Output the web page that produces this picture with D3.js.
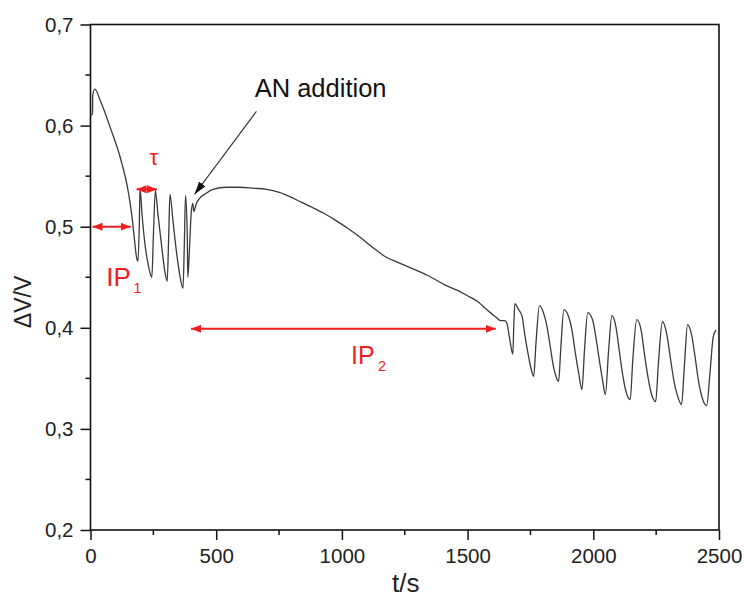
<!DOCTYPE html>
<html>
<head>
<meta charset="utf-8">
<script src="https://cdn.jsdelivr.net/npm/d3@7"></script>
<style>
    body { margin: 0; background: #fff; overflow: hidden; }
    svg { display: block; font-family: Arial, "Liberation Sans", sans-serif; }
</style>
</head>
<body>
<svg></svg>
<script>
// time in seconds
const times = [
    4, 8, 9, 17, 40, 80, 120, 150, 165, 175, 183, 189,
    194, 197, 205, 216, 230, 244,
    250, 258, 268, 282, 295, 305,
    311, 316, 328, 341, 354, 368,
    373, 378, 385, 387, 394, 401, 407, 411, 421, 434,
    460, 487, 540, 592, 650, 700, 751, 800, 840, 883, 930, 970,
    1020, 1070, 1120, 1175, 1220, 1267, 1340, 1413, 1460, 1505, 1545, 1571, 1600, 1620, 1631, 1648,
    1657, 1668, 1680, 1684, 1688,
    1703, 1717, 1727, 1740, 1754, 1763, 1772, 1786,
    1803, 1816, 1829, 1842, 1856, 1862, 1871, 1883,
    1902, 1915, 1928, 1942, 1955, 1965, 1978,
    1997, 2010, 2024, 2037, 2048, 2061, 2074,
    2090, 2103, 2116, 2129, 2147, 2157, 2173,
    2190, 2203, 2217, 2232, 2248, 2259, 2275,
    2292, 2305, 2319, 2336, 2351, 2362, 2375,
    2391, 2405, 2418, 2434, 2451, 2464, 2477, 2488
];
// relative voltage change
const dvv = [
    0.610, 0.612, 0.630, 0.636, 0.624, 0.597, 0.567, 0.535, 0.510, 0.487, 0.470, 0.466,
    0.500, 0.538, 0.512, 0.484, 0.462, 0.450,
    0.490, 0.536, 0.513, 0.483, 0.457, 0.446,
    0.490, 0.532, 0.506, 0.477, 0.454, 0.439,
    0.480, 0.531, 0.490, 0.450, 0.480, 0.515, 0.523, 0.515, 0.523, 0.528,
    0.533, 0.537, 0.539, 0.539, 0.538, 0.537, 0.534, 0.529, 0.524, 0.519, 0.513, 0.507,
    0.499, 0.490, 0.480, 0.470, 0.465, 0.460, 0.452, 0.442, 0.437, 0.431, 0.425, 0.419, 0.413, 0.409, 0.407, 0.407,
    0.404, 0.388, 0.374, 0.404, 0.424,
    0.418, 0.411, 0.394, 0.375, 0.358, 0.352, 0.385, 0.422,
    0.414, 0.401, 0.381, 0.361, 0.349, 0.347, 0.381, 0.418,
    0.411, 0.398, 0.376, 0.355, 0.339, 0.378, 0.415,
    0.408, 0.391, 0.368, 0.348, 0.334, 0.378, 0.412,
    0.401, 0.378, 0.355, 0.338, 0.329, 0.368, 0.408,
    0.398, 0.375, 0.352, 0.334, 0.327, 0.365, 0.406,
    0.394, 0.373, 0.350, 0.332, 0.324, 0.361, 0.403,
    0.393, 0.371, 0.348, 0.330, 0.323, 0.355, 0.391, 0.398
];
const xTicks = [0, 500, 1000, 1500, 2000, 2500];
const yTicks = [0.2, 0.3, 0.4, 0.5, 0.6, 0.7];
const xMinor = [250, 750, 1250, 1750, 2250];
const yMinor = [0.25, 0.35, 0.45, 0.55, 0.65];

const data = times.map((t, i) => ({ t: t, v: dvv[i] }));

const width = 744;
const height = 605;
const svg = d3.select('svg').attr('width', width).attr('height', height);
const margin = { top: 24.5, right: 25, bottom: 75, left: 90.5 };
const innerWidth = width - margin.left - margin.right;
const innerHeight = height - margin.top - margin.bottom;
const g = svg.append('g').attr('transform', `translate(${margin.left},${margin.top})`);

const xScale = d3.scaleLinear().domain([0, 2500]).range([0, innerWidth]);
const yScale = d3.scaleLinear().domain([0.2, 0.7]).range([innerHeight, 0]);
const fmt = d => d3.format('.1f')(d).replace('.', ',');

//Axes
const xAxis = d3.axisBottom(xScale).tickValues(xTicks).tickSize(10).tickPadding(8).tickFormat(d3.format('d'));
const yAxis = d3.axisLeft(yScale).tickValues(yTicks).tickSize(10).tickPadding(7).tickFormat(fmt);
const gx = g.append('g').attr('transform', `translate(0,${innerHeight})`).call(xAxis);
const gy = g.append('g').call(yAxis);

// minor ticks
gx.selectAll('.minor').data(xMinor).enter().append('line')
    .attr('class', 'minor')
    .attr('x1', d => xScale(d)).attr('x2', d => xScale(d))
    .attr('y1', 0).attr('y2', 5);
gy.selectAll('.minor').data(yMinor).enter().append('line')
    .attr('class', 'minor')
    .attr('y1', d => yScale(d)).attr('y2', d => yScale(d))
    .attr('x1', 0).attr('x2', -5);

[gx, gy].forEach(a => {
    a.selectAll('.domain').remove();
    a.selectAll('line').attr('stroke', '#111').attr('stroke-width', 1.5);
    a.selectAll('text').attr('font-size', 20.5).attr('fill', '#222').attr('font-family', 'Arial, "Liberation Sans", sans-serif');
});

// frame
g.append('rect')
    .attr('width', innerWidth).attr('height', innerHeight)
    .attr('fill', 'none').attr('stroke', '#111').attr('stroke-width', 1.6);

// small helper for free text
const addText = (parent, x, y, str, size, color) => parent.append('text')
    .attr('x', x).attr('y', y).attr('dy', '0em')
    .style('font-size', size + 'px').style('fill', color)
    .text(str);

// axis titles
addText(svg, margin.left + innerWidth / 2 + 1, 592, 't/s', 26, '#222')
    .attr('text-anchor', 'middle');
addText(svg, 0, 0, 'ΔV/V', 23, '#222')
    .attr('transform', `translate(31,302) rotate(-90)`)
    .attr('text-anchor', 'middle');

//Curve
const line = d3.line().x(d => xScale(d.t)).y(d => yScale(d.v)).curve(d3.curveMonotoneX);
g.append('path').datum(data)
    .attr('d', line)
    .attr('fill', 'none').attr('stroke', '#3a3a3a').attr('stroke-width', 1.3);

//Annotations
const red = '#f01e1e';
const defs = svg.append('defs');
const marker = (id, color, w, h) => defs.append('marker')
    .attr('id', id).attr('viewBox', `0 0 ${w} ${h}`)
    .attr('refX', w).attr('refY', h / 2)
    .attr('markerWidth', w).attr('markerHeight', h)
    .attr('markerUnits', 'userSpaceOnUse')
    .attr('orient', 'auto-start-reverse')
    .append('path').attr('d', `M0,0L${w},${h / 2}L0,${h}Z`).attr('fill', color);
marker('redArrow', red, 10, 8);
marker('blackArrow', '#111', 13, 8);

const dblArrow = (t0, t1, v) => g.append('line')
    .attr('x1', xScale(t0)).attr('x2', xScale(t1))
    .attr('y1', yScale(v)).attr('y2', yScale(v))
    .attr('stroke', red).attr('stroke-width', 2)
    .attr('marker-start', 'url(#redArrow)').attr('marker-end', 'url(#redArrow)');
dblArrow(8, 160, 0.5);
dblArrow(183, 264, 0.537);
dblArrow(400, 1612, 0.399);

// IP labels: main text plus a separate subscript text
const label = (t, v, main, sub, size, subDx) => {
    addText(g, xScale(t), yScale(v), main, size, red);
    addText(g, xScale(t) + subDx, yScale(v) + 7, sub, size * 0.58, red);
};
label(63, 0.4415, 'IP', '1', 26, 27);
label(1036, 0.364, 'IP', '2', 25, 27);
addText(g, xScale(252), yScale(0.561), 'τ', 22, red)
    .attr('text-anchor', 'middle');

g.append('line')
    .attr('x1', xScale(660)).attr('y1', yScale(0.614))
    .attr('x2', xScale(414)).attr('y2', yScale(0.532))
    .attr('stroke', '#333').attr('stroke-width', 1.1)
    .attr('marker-end', 'url(#blackArrow)');
addText(g, xScale(653), yScale(0.628), 'AN addition', 25.5, '#111');
</script>
</body>
</html>
